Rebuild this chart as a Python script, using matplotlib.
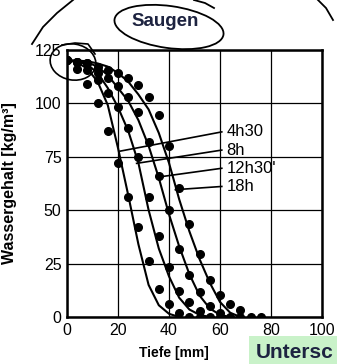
import matplotlib
matplotlib.use('Agg')
import matplotlib.pyplot as plt
from matplotlib.patches import Ellipse, Rectangle

plt.rcParams['font.family'] = ['Liberation Sans', 'DejaVu Sans']

# measured points (depth in mm, water content in kg/m3)
x_4h30 = [0, 4, 8, 12, 16, 20, 24, 28, 32, 36, 40, 44, 48, 52]
y_4h30 = [120, 116, 109, 100, 87, 72, 56, 42, 26, 13, 6, 2, 0, 0]
x_8h = [0, 4, 8, 12, 16, 20, 24, 28, 32, 36, 40, 44, 48, 52, 56, 60]
y_8h = [120, 119, 115.4, 110.7, 104.5, 98, 88.5, 75, 56, 38, 23.5, 12, 7, 3, 0, 0]
x_12h30 = [0, 4, 8, 12, 16, 20, 24, 28, 32, 36, 40, 44, 48, 52, 56, 60, 64, 68]
y_12h30 = [120, 119, 118.5, 114, 111.5, 108, 103, 96, 82, 66, 50, 32, 19.5, 11.5, 5, 2, 0, 0]
x_18h = [0, 4, 8, 12, 16, 20, 24, 28, 32, 36, 40, 44, 48, 52, 56, 60, 64, 68, 72, 76]
y_18h = [120, 119, 118.5, 117, 115.5, 114, 111.5, 108.5, 103, 94.5, 80, 60.5, 43.5, 29.5, 17.5, 10.5, 6, 3.3, 0, 0]

# fitted curves
cx_4h30 = [0, 4, 8, 12, 16, 20, 24, 28, 32, 36, 40, 44]
cy_4h30 = [120, 119, 116, 110, 99, 79, 57, 34, 15, 5.5, 1.5, 0]
cx_8h = [0, 4, 8, 12, 16, 20, 24, 28, 32, 36, 40, 44, 48, 52, 56]
cy_8h = [120, 119.5, 118, 114, 107, 98, 87, 72, 50, 32, 19, 9, 3.5, 1, 0]
cx_12h30 = [0, 4, 8, 12, 16, 20, 24, 28, 32, 36, 40, 44, 48, 52, 56, 60, 64]
cy_12h30 = [120, 119.5, 119, 117, 113, 107, 101, 92, 80, 65, 48, 33, 20, 10, 4, 1, 0]
cx_18h = [0, 4, 8, 12, 16, 20, 24, 28, 32, 36, 40, 44, 48, 52, 56, 60, 64, 68]
cy_18h = [120, 119.8, 119.5, 118.5, 117, 114, 110, 104, 97, 86, 72, 55, 40, 27, 16, 7, 2, 0]

labels = ['4h30', '8h', "12h30'", '18h']
label_y = [86.5, 78, 69.5, 61]
leader_x = [20.8, 27.3, 35.2, 42.5]
leader_y = [77.5, 71.8, 65.3, 59.5]

fig = plt.figure(figsize=(3.37, 3.64), dpi=100)
ax = fig.add_axes([0.1988, 0.1291, 0.7567, 0.7349])

for cx, cy in [(cx_4h30, cy_4h30), (cx_8h, cy_8h), (cx_12h30, cy_12h30), (cx_18h, cy_18h)]:
    ax.plot(cx, cy, color='black', lw=1.5, zorder=3)
for x, y in [(x_4h30, y_4h30), (x_8h, y_8h), (x_12h30, y_12h30), (x_18h, y_18h)]:
    ax.plot(x, y, 'o', color='black', ms=5.5, zorder=4)

for lab, ly, lx0, ly0 in zip(labels, label_y, leader_x, leader_y):
    ax.plot([lx0, 60.7], [ly0, ly], color='black', lw=1.2, zorder=3)
    ax.text(62.5, ly, lab, fontsize=12, va='center', ha='left')

ax.set_xlim(0, 100)
ax.set_ylim(0, 125)
ax.set_xticks([0, 20, 40, 60, 80, 100])
ax.set_yticks([0, 25, 50, 75, 100, 125])
ax.grid(True, color='black', lw=0.9)
ax.tick_params(length=0, labelsize=11.5, pad=4)
for s in ax.spines.values():
    s.set_linewidth(1.8)
ax.set_xlabel('Tiefe [mm]', fontsize=10, fontweight='bold')
ax.set_ylabel('Wassergehalt [kg/m³]', fontsize=11.5, fontweight='bold')
ax.xaxis.set_label_coords((174 - 67) / 255, -(346 - 317) / 267.5)
ax.yaxis.set_label_coords(-(67 - 17) / 255, (317 - 183) / 267.5)

# overlay in pixel coordinates for the title, hand-drawn marks and the caption
ov = fig.add_axes([0, 0, 1, 1], zorder=10)
ov.set_xlim(0, 337)
ov.set_ylim(364, 0)
ov.axis('off')
ov.patch.set_alpha(0)

ov.text(165, 21, 'Saugen', fontsize=13.5, fontweight='bold', color='#1d2340', ha='center', va='center')
ov.add_patch(Ellipse((169, 27), 110, 42, angle=8, fill=False, lw=1.3, color='black'))
ov.plot([32, 43, 57, 73], [44, 27, 13, 0], color='black', lw=1.3)
ov.plot([194, 205, 214], [0, 3, 8], color='black', lw=1.3)
ov.plot([318, 326, 333], [0, 8, 20], color='black', lw=1.3)
ov.add_patch(Ellipse((73, 62), 46, 36, angle=10, fill=False, lw=1.2, color='black'))
ov.plot([62, 75, 88, 95], [45, 43, 44, 54], color='black', lw=1.2)

ov.add_patch(Rectangle((249, 336), 90, 30, color='#c9f2c9', lw=0))
ov.text(256, 352, 'Untersc', fontsize=15, fontweight='bold', color='#1d2340', ha='left', va='center')

fig.savefig('out.png', dpi=100)
